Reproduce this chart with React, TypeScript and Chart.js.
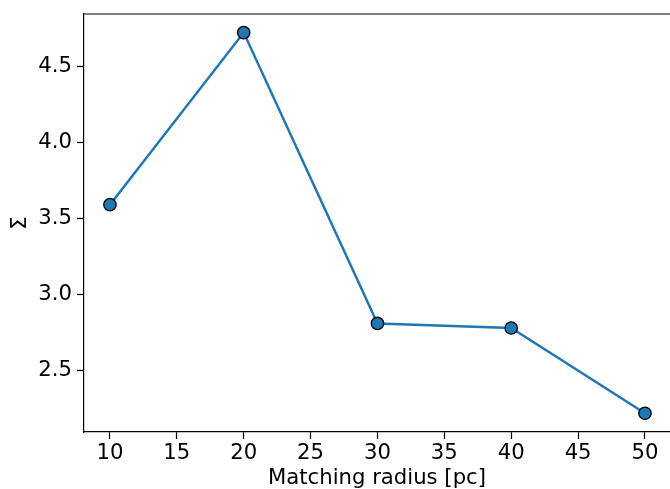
import React, { useEffect, useRef } from "react";
import { Chart, registerables } from "chart.js";

Chart.register(...registerables);

const radii = [10, 20, 30, 40, 50];
const sigma = [3.59, 4.72, 2.81, 2.78, 2.22];
const xTitle = "Matching radius [pc]";
const yTitle = "Σ";

const FONT = "'DejaVu Sans', sans-serif";
const FS = 21.2;

const topSpine = {
  id: "topSpine",
  afterDraw(chart: any) {
    const { ctx, chartArea } = chart;
    ctx.save();
    ctx.strokeStyle = "#000";
    ctx.lineWidth = 1.2;
    ctx.beginPath();
    ctx.moveTo(chartArea.left, chartArea.top);
    ctx.lineTo(chartArea.right, chartArea.top);
    ctx.stroke();
    ctx.restore();
  },
};

export default function App() {
  const ref = useRef<HTMLCanvasElement>(null);
  useEffect(() => {
    const chart = new Chart(ref.current!, {
      type: "line",
      data: {
        datasets: [
          {
            data: radii.map((r, i) => ({ x: r, y: sigma[i] })),
            borderColor: "#1f77b4",
            borderWidth: 2.5,
            backgroundColor: "#1f77b4",
            pointBackgroundColor: "#1f77b4",
            pointBorderColor: "#000",
            pointBorderWidth: 1.3,
            pointRadius: 6.2,
            tension: 0,
            clip: false as any,
          },
        ],
      },
      options: {
        animation: false,
        responsive: false,
        maintainAspectRatio: false,
        layout: { autoPadding: false, padding: { top: 14, left: 0, right: 0, bottom: 0 } },
        plugins: { legend: { display: false }, tooltip: { enabled: false } },
        scales: {
          x: {
            type: "linear",
            min: 8.06,
            max: 51.87,
            afterFit: (s: any) => {
              s.height = 57;
              s.paddingLeft = 0;
              s.paddingRight = 0;
            },
            ticks: {
              stepSize: 5,
              includeBounds: false,
              padding: 2,
              color: "#000",
              font: { family: FONT, size: FS },
              maxRotation: 0,
            },
            grid: {
              drawOnChartArea: false,
              drawTicks: true,
              tickLength: 7,
              tickWidth: 1.2,
              tickColor: "#000",
            },
            border: { display: true, color: "#000", width: 1.2 },
            title: {
              display: true,
              text: xTitle,
              color: "#000",
              font: { family: FONT, size: FS },
              padding: { top: 0, bottom: -2 },
            },
          },
          y: {
            type: "linear",
            min: 2.097,
            max: 4.842,
            afterFit: (s: any) => {
              s.width = 84;
              s.paddingTop = 0;
              s.paddingBottom = 0;
              s.paddingLeft = 0;
              s.paddingRight = 0;
            },
            ticks: {
              stepSize: 0.5,
              includeBounds: false,
              padding: 5,
              color: "#000",
              font: { family: FONT, size: FS },
              callback: (v: any) => Number(v).toFixed(1),
            },
            grid: {
              drawOnChartArea: false,
              drawTicks: true,
              tickLength: 7,
              tickWidth: 1.2,
              tickColor: "#000",
            },
            border: { display: true, color: "#000", width: 1.2 },
            title: {
              display: true,
              text: yTitle,
              color: "#000",
              font: { family: FONT, size: FS },
              padding: { top: 8, bottom: 0 },
            },
          },
        },
      },
      plugins: [topSpine],
    });
    return () => chart.destroy();
  }, []);
  return (
    <div style={{ position: "absolute", left: 0, top: 0, width: 670, height: 489, background: "#fff" }}>
      <canvas ref={ref} width={670} height={489} style={{ width: 670, height: 489 }} />
    </div>
  );
}
